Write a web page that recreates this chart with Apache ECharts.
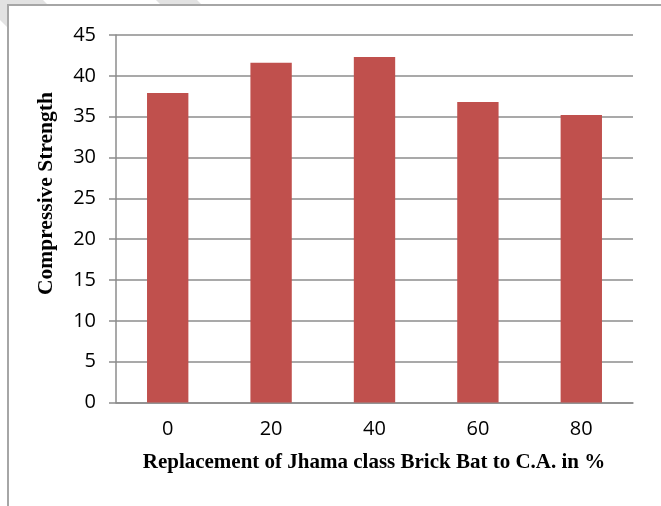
<!DOCTYPE html>
<html>
<head>
<meta charset="utf-8">
<script src="https://cdn.jsdelivr.net/npm/echarts@6/dist/echarts.min.js"></script>
<style>
  html, body { margin: 0; padding: 0; background: #ffffff; }
  #chart { width: 661px; height: 506px; }
</style>
</head>
<body>
<div id="chart"></div>
<script>
// Replacement percentage of coarse aggregate by Jhama class brick bat
const categories = ['0', '20', '40', '60', '80'];
// Compressive strength at each replacement level
const strength = [37.9, 41.6, 42.3, 36.8, 35.2];
const yAxisTitle = 'Compressive Strength';
const xAxisTitle = 'Replacement of Jhama class Brick Bat to C.A. in %';

const chart = echarts.init(document.getElementById('chart'), null, { renderer: 'canvas' });

const gridColor = '#8c8c8c';
const numFont = '"Open Sans", "Liberation Sans", sans-serif';
const titleFont = '"Liberation Serif", "DejaVu Serif", serif';

chart.setOption({
  animation: false,
  backgroundColor: '#ffffff',
  grid: { left: 116, right: 28, top: 35, bottom: 103.5, containLabel: false },
  xAxis: {
    type: 'category',
    data: categories,
    axisLine: { show: true, lineStyle: { color: gridColor, width: 1.5 } },
    axisTick: { show: false },
    axisLabel: { color: '#000', fontFamily: numFont, fontSize: 20, margin: 17 }
  },
  yAxis: {
    type: 'value',
    min: 0,
    max: 45,
    interval: 5,
    axisLine: { show: true, lineStyle: { color: gridColor, width: 1.5 } },
    axisTick: { show: true, length: 7, lineStyle: { color: gridColor, width: 1.5 } },
    axisLabel: { color: '#000', fontFamily: numFont, fontSize: 20, margin: 20 },
    splitLine: { show: true, lineStyle: { color: gridColor, width: 1.5 } }
  },
  series: [{
    type: 'bar',
    data: strength,
    barWidth: '40%',
    itemStyle: { color: '#c0504d' }
  }],
  graphic: [
    // pale diagonal bands behind the frame
    {
      type: 'polygon',
      z: -3,
      silent: true,
      shape: { points: [[0, 0], [43, 0], [300, 257], [237, 257], [0, 20]] },
      style: { fill: '#e2e2e2' }
    },
    {
      type: 'polygon',
      z: -3,
      silent: true,
      shape: { points: [[156, 0], [197, 0], [202, 5], [161, 5]] },
      style: { fill: '#e2e2e2' }
    },
    // outer frame
    {
      type: 'rect',
      z: -2,
      shape: { x: 8, y: 5, width: 720, height: 560 },
      style: { fill: '#ffffff', stroke: '#a6a6a6', lineWidth: 2 },
      silent: true
    },
    {
      type: 'text',
      x: 46, y: 193.5,
      rotation: Math.PI / 2,
      style: {
        text: yAxisTitle,
        fill: '#000',
        font: 'bold 21.5px ' + titleFont,
        textAlign: 'center',
        textVerticalAlign: 'middle'
      }
    },
    {
      type: 'text',
      x: 374, y: 463,
      style: {
        text: xAxisTitle,
        fill: '#000',
        font: 'bold 21px ' + titleFont,
        textAlign: 'center',
        textVerticalAlign: 'middle'
      }
    }
  ]
});
</script>
</body>
</html>
